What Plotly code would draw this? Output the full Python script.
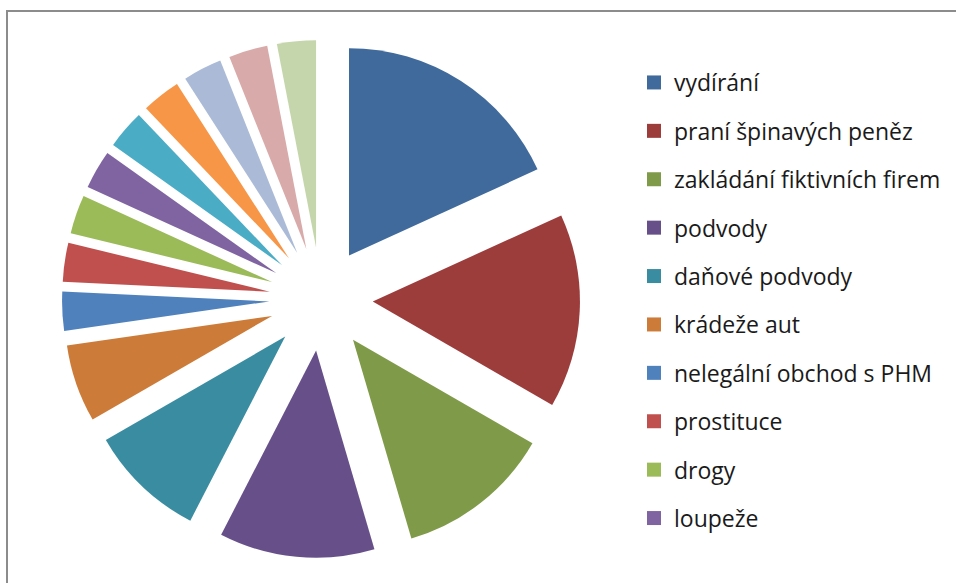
import plotly.graph_objects as go

# ---- data ----
categories = [
    "vydírání", "praní špinavých peněz", "zakládání fiktivních firem", "podvody",
    "daňové podvody", "krádeže aut", "nelegální obchod s PHM", "prostituce",
    "drogy", "loupeže", "korupce", "obchod se zbraněmi", "pašování",
    "nelegální migrace", "hazard",
]
values = [6, 5, 4, 4, 3, 2, 1, 1, 1, 1, 1, 1, 1, 1, 1]
legend_shown = categories[:10]

colors = [
    "#3F6A9B", "#9C3D3C", "#7F9A48", "#67508A", "#3A8CA1", "#CC7B38",
    "#4F81BD", "#C0504D", "#9BBB59", "#8064A2", "#4BACC6", "#F79646",
    "#AABAD7", "#D9AAAA", "#C6D6AC",
]

W, H = 956, 583
cx, cy, R = 321, 299, 259  # pie centre and outer reach incl. explosion (px)

fig = go.Figure()
fig.add_trace(go.Pie(
    labels=categories,
    values=values,
    sort=False,
    direction="clockwise",
    rotation=0,
    pull=[0.25] * len(values),
    marker=dict(colors=colors, line=dict(width=0)),
    textinfo="none",
    showlegend=False,
    domain=dict(x=[(cx - R) / W, (cx + R) / W],
                y=[1 - (cy + R) / H, 1 - (cy - R) / H]),
))

# legend entries (only first ten shown, as in the reference)
for i, name in enumerate(legend_shown):
    fig.add_trace(go.Scatter(
        x=[None], y=[None], mode="markers", name=name,
        legendgroup=f"g{i}",
        marker=dict(symbol="square", size=14, color=colors[i]),
    ))

fig.update_layout(
    width=W, height=H,
    margin=dict(l=0, r=0, t=0, b=0),
    paper_bgcolor="white", plot_bgcolor="white",
    xaxis=dict(visible=False), yaxis=dict(visible=False),
    legend=dict(
        x=634 / W, xanchor="left", y=1 - 61 / H, yanchor="top",
        font=dict(family="Open Sans", size=23, color="#1a1a1a"),
        tracegroupgap=15.5, traceorder="grouped",
        bgcolor="rgba(0,0,0,0)", itemsizing="trace",
    ),
    shapes=[dict(type="rect", xref="paper", yref="paper",
                 x0=7 / W, x1=1.2, y0=-0.2, y1=1 - 11 / H,
                 line=dict(color="#8C8C8C", width=2), fillcolor="rgba(0,0,0,0)")],
)

fig.write_html("out.html",
               config={"displayModeBar": False},
               post_script="document.body.style.margin='0';document.body.style.overflow='hidden';")
